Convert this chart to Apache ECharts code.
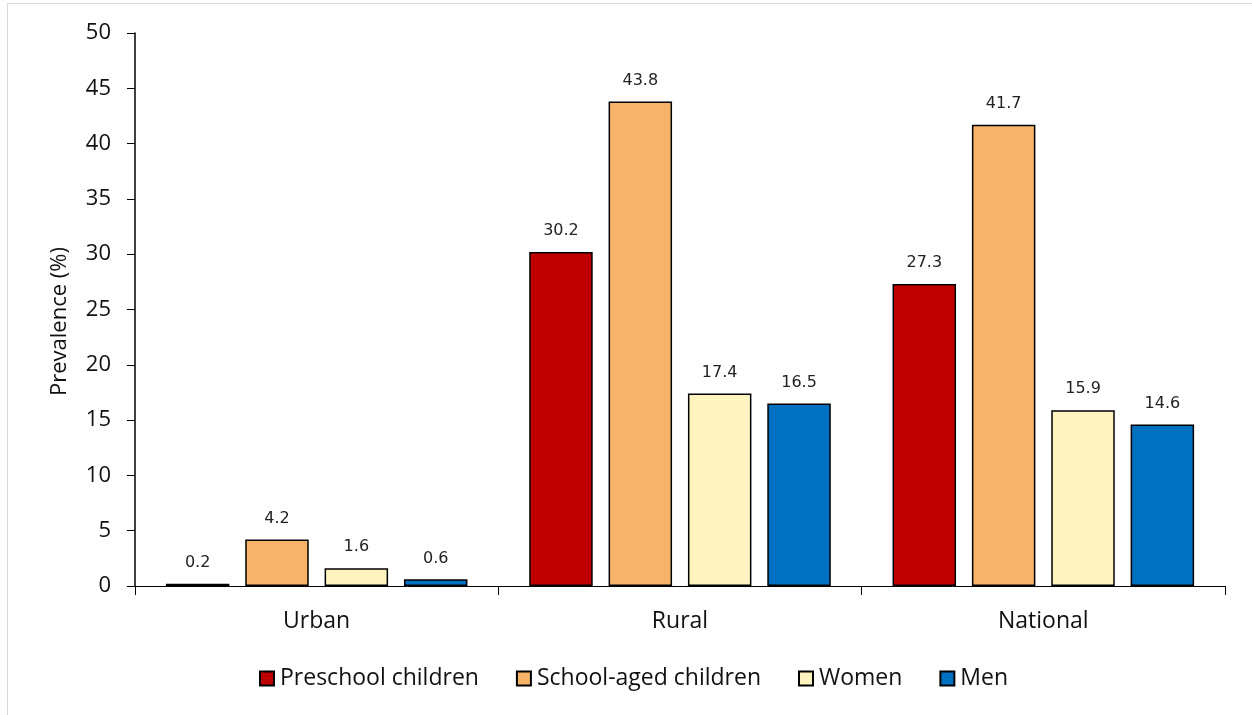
<!DOCTYPE html>
<html>
<head>
<meta charset="utf-8">
<script src="https://cdn.jsdelivr.net/npm/echarts@6/dist/echarts.min.js"></script>
<style>
  html, body { margin: 0; padding: 0; background: #fff; }
  #frame { position: absolute; left: 7px; top: 3px; width: 1260px; height: 720px; border: 1px solid #d9d9d9; box-sizing: border-box; }
  #chart { position: absolute; left: 0; top: 0; width: 1252px; height: 715px; }
</style>
</head>
<body>
<div id="frame"></div>
<div id="chart"></div>
<script>
// Prevalence by area and population group
const categories = ['Urban', 'Rural', 'National'];
const seriesNames = ['Preschool children', 'School-aged children', 'Women', 'Men'];
const preschool = [0.2, 30.2, 27.3];
const schoolAged = [4.2, 43.8, 41.7];
const women = [1.6, 17.4, 15.9];
const men = [0.6, 16.5, 14.6];
const yTicks = { min: 0, max: 50, interval: 5 };

const colors = ['#C00000', '#F7B36A', '#FFF4BF', '#0070C0'];
const values = [preschool, schoolAged, women, men];

const chart = echarts.init(document.getElementById('chart'), null, { renderer: 'canvas' });

const axisFont = "'Open Sans', 'Liberation Sans', sans-serif";

chart.setOption({
  animation: false,
  backgroundColor: 'transparent',
  grid: { left: 135, right: 27, top: 33, bottom: 129 },
  legend: {
    top: 662,
    left: 254,
    itemWidth: 14,
    itemHeight: 14,
    itemGap: 37,
    icon: 'rect',
    textStyle: { fontFamily: axisFont, fontSize: 23, color: '#111', padding: [0, 0, 0, 1] },
    data: seriesNames
  },
  xAxis: {
    type: 'category',
    data: categories,
    axisLine: { lineStyle: { color: '#000', width: 1 } },
    axisTick: { show: true, length: 9, lineStyle: { color: '#000' } },
    axisLabel: { fontFamily: axisFont, fontSize: 23, color: '#111', margin: 24 }
  },
  yAxis: {
    type: 'value',
    min: yTicks.min,
    max: yTicks.max,
    interval: yTicks.interval,
    name: 'Prevalence (%)',
    nameLocation: 'middle',
    nameGap: 64,
    nameTextStyle: { fontFamily: axisFont, fontSize: 22, color: '#111', padding: [0, 24, 0, 0] },
    axisLine: { show: true, lineStyle: { color: '#000', width: 1.5 } },
    axisTick: { show: true, length: 8, lineStyle: { color: '#000', width: 1 } },
    splitLine: { show: false },
    axisLabel: { fontFamily: axisFont, fontSize: 22, color: '#111', margin: 24 }
  },
  series: seriesNames.map((name, i) => ({
    name: name,
    type: 'bar',
    data: values[i],
    barGap: '25%',
    barCategoryGap: '17%',
    itemStyle: { color: colors[i], borderColor: '#000', borderWidth: 1.5 },
    label: {
      show: true,
      position: 'top',
      distance: 13,
      fontFamily: "'DejaVu Sans', sans-serif",
      fontSize: 16,
      color: '#222',
      formatter: p => p.value.toFixed(1)
    }
  }))
});
</script>
</body>
</html>
